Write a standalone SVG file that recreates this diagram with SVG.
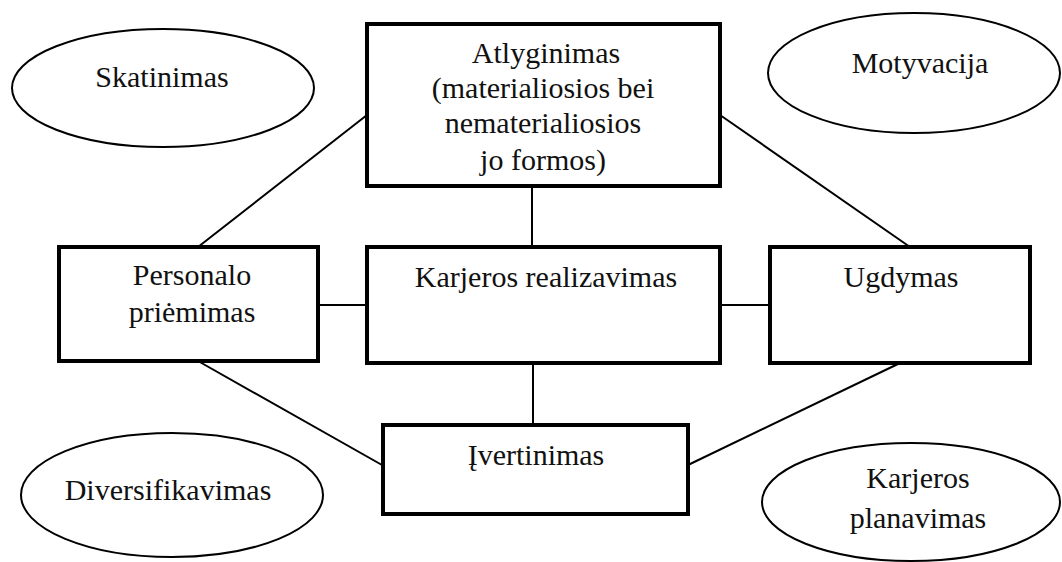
<svg xmlns="http://www.w3.org/2000/svg" width="1062" height="562" viewBox="0 0 1062 562">
  <style>
    .box { fill: #fff; stroke: #000; stroke-width: 4; }
    .oval { fill: #fff; stroke: #000; stroke-width: 2; }
    .link { stroke: #000; stroke-width: 2; fill: none; }
    .lbl { font-family: 'Liberation Serif', 'Times New Roman', 'DejaVu Serif', serif; font-size: 30px; fill: #111; text-anchor: middle; }
  </style>
  <rect width="1062" height="562" fill="#fff"/>

  <!-- connectors -->
  <g id="connectors">
    <line class="link" x1="367" y1="115" x2="198" y2="247"/>
    <line class="link" x1="720" y1="115" x2="910" y2="247"/>
    <line class="link" x1="532" y1="186" x2="532" y2="247"/>
    <line class="link" x1="318" y1="305" x2="367" y2="305"/>
    <line class="link" x1="720" y1="305" x2="770" y2="305"/>
    <line class="link" x1="533" y1="363" x2="533" y2="425"/>
    <line class="link" x1="198" y1="361" x2="382" y2="465"/>
    <line class="link" x1="900" y1="363" x2="688" y2="465"/>
  </g>

  <!-- surrounding ovals -->
  <g id="skatinimas" class="lbl" font-family="Liberation Serif, serif">
    <ellipse class="oval" cx="163" cy="88" rx="151" ry="59"/>
    <text x="162" y="87">Skatinimas</text>
  </g>
  <g id="motyvacija" class="lbl" font-family="Liberation Serif, serif">
    <ellipse class="oval" cx="914" cy="73" rx="146" ry="60"/>
    <text x="920" y="73">Motyvacija</text>
  </g>
  <g id="diversifikavimas" class="lbl" font-family="Liberation Serif, serif">
    <ellipse class="oval" cx="172" cy="495" rx="151" ry="62"/>
    <text x="168" y="500">Diversifikavimas</text>
  </g>
  <g id="karjeros-planavimas" class="lbl" font-family="Liberation Serif, serif">
    <ellipse class="oval" cx="911" cy="502" rx="149" ry="59"/>
    <text x="918" y="488">Karjeros</text>
    <text x="918" y="528">planavimas</text>
  </g>

  <!-- central boxes -->
  <g id="atlyginimas" class="lbl" font-family="Liberation Serif, serif">
    <rect class="box" x="367" y="24" width="353" height="162"/>
    <text x="546" y="63">Atlyginimas</text>
    <text x="543" y="98">(materialiosios bei</text>
    <text x="543" y="133">nematerialiosios</text>
    <text x="543" y="170">jo formos)</text>
  </g>
  <g id="personalo-priemimas" class="lbl" font-family="Liberation Serif, serif">
    <rect class="box" x="59" y="247" width="259" height="114"/>
    <text x="192" y="285">Personalo</text>
    <text x="192" y="322">priėmimas</text>
  </g>
  <g id="karjeros-realizavimas" class="lbl" font-family="Liberation Serif, serif">
    <rect class="box" x="367" y="247" width="353" height="116"/>
    <text x="546" y="287">Karjeros realizavimas</text>
  </g>
  <g id="ugdymas" class="lbl" font-family="Liberation Serif, serif">
    <rect class="box" x="770" y="247" width="260" height="116"/>
    <text x="901" y="287">Ugdymas</text>
  </g>
  <g id="ivertinimas" class="lbl" font-family="Liberation Serif, serif">
    <rect class="box" x="383" y="425" width="305" height="89"/>
    <text x="536" y="465">Įvertinimas</text>
  </g>
</svg>
